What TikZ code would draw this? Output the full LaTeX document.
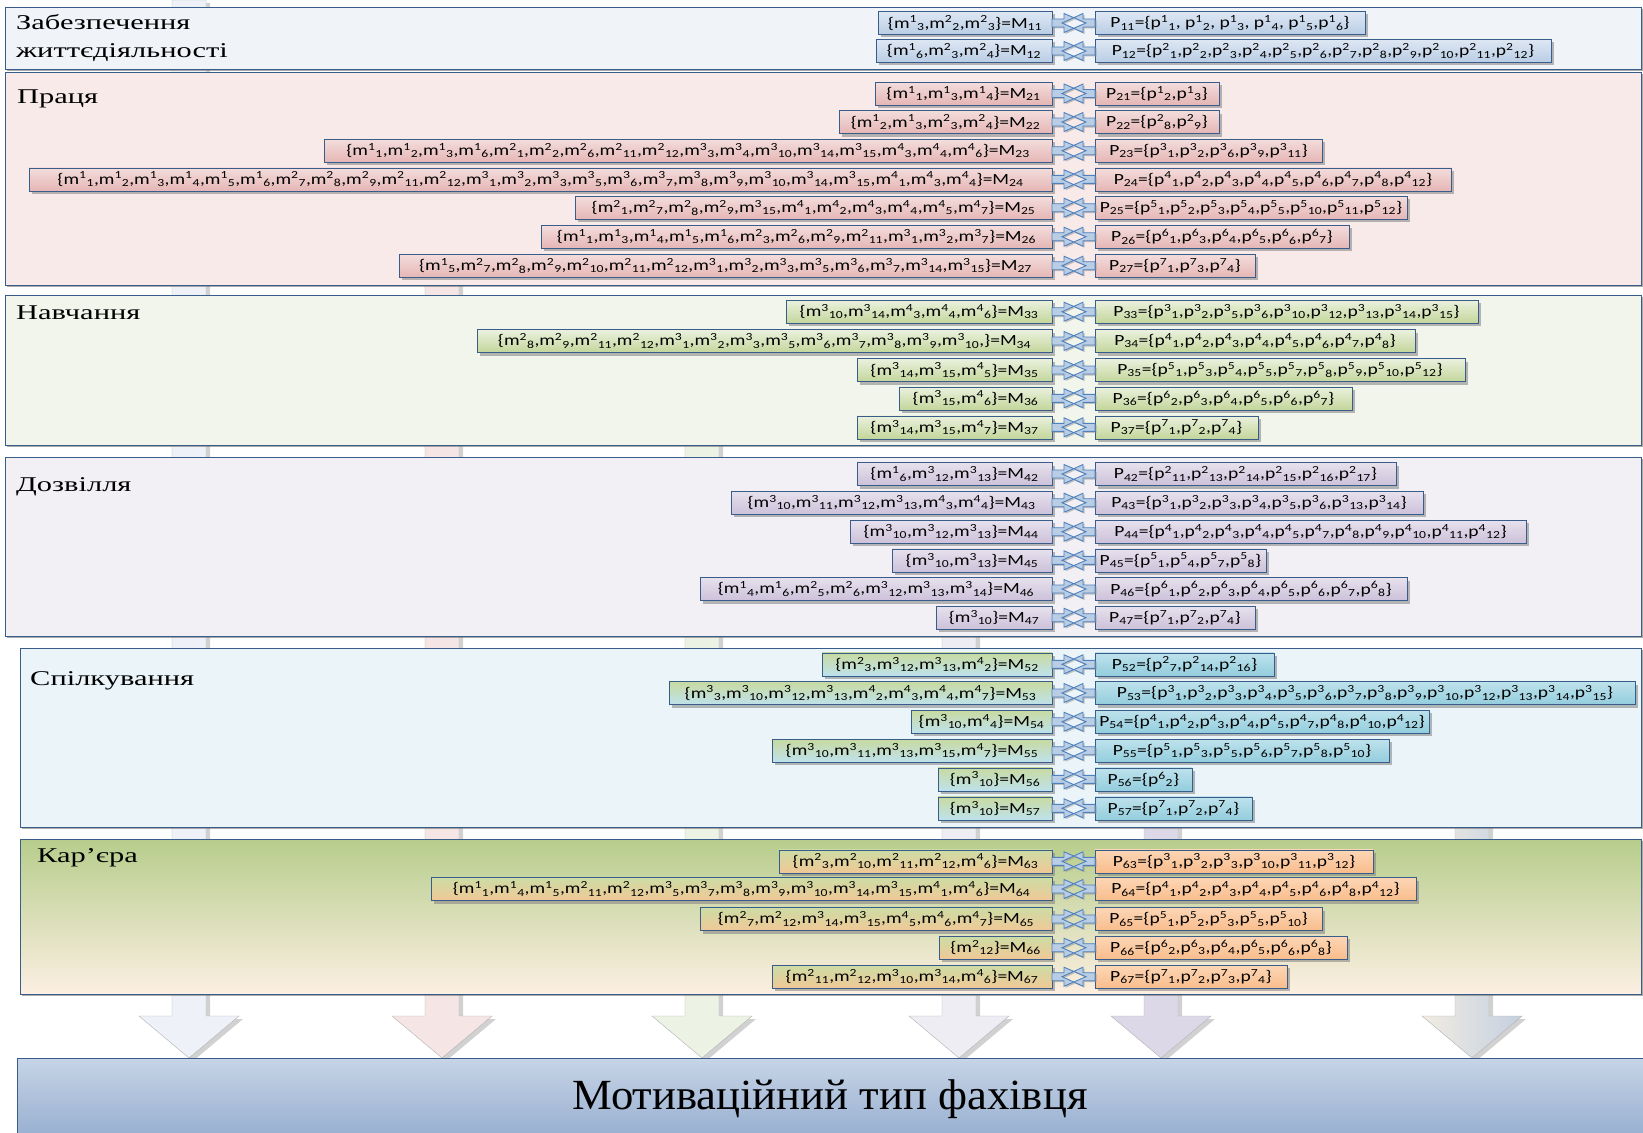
\documentclass[tikz,border=0pt]{standalone}
\usepackage{fontspec}
\setmainfont{Liberation Serif}
\newfontfamily\cellfont[FakeStretch=1.26]{Carlito}
\newfontfamily\headfont[FakeStretch=1.45]{Liberation Serif}
\newfontfamily\basefont[FakeStretch=1.04]{Liberation Serif}
\usetikzlibrary{calc,shadows,backgrounds}
\definecolor{frame}{RGB}{56,93,138}
\definecolor{linkfill}{RGB}{185,205,229}
\definecolor{linkline}{RGB}{79,129,189}
\definecolor{lifeback}{RGB}{240,243,248}
\definecolor{workback}{RGB}{249,234,234}
\definecolor{studyback}{RGB}{242,245,236}
\definecolor{leisureback}{RGB}{242,240,245}
\definecolor{talkback}{RGB}{234,244,249}
\definecolor{careertop}{RGB}{183,205,140}
\definecolor{careerbot}{RGB}{252,239,226}
\definecolor{lifetop}{RGB}{222,231,243}
\definecolor{lifebot}{RGB}{185,205,229}
\definecolor{worktop}{RGB}{243,221,220}
\definecolor{workbot}{RGB}{229,182,181}
\definecolor{studytop}{RGB}{235,241,222}
\definecolor{studybot}{RGB}{195,214,155}
\definecolor{leisuretop}{RGB}{231,225,237}
\definecolor{leisurebot}{RGB}{204,193,218}
\definecolor{talkgreen}{RGB}{200,218,160}
\definecolor{talktop}{RGB}{190,226,236}
\definecolor{talkbot}{RGB}{147,205,221}
\definecolor{careergreen}{RGB}{205,220,165}
\definecolor{careertan}{RGB}{240,200,150}
\definecolor{careerpt}{RGB}{252,214,182}
\definecolor{careerpb}{RGB}{249,189,140}
\definecolor{basetop}{RGB}{198,212,230}
\definecolor{basebot}{RGB}{150,174,208}
\definecolor{sink1}{RGB}{238,242,248}
\definecolor{sink2}{RGB}{246,229,229}
\definecolor{sink3}{RGB}{236,243,228}
\definecolor{sink4}{RGB}{239,237,244}
\definecolor{sink5}{RGB}{221,216,232}
\definecolor{sink6a}{RGB}{241,236,226}
\definecolor{sink6b}{RGB}{196,208,224}
\tikzset{
  panel/.style={draw=frame,inner sep=0pt,outer sep=0pt,
    drop shadow={shadow xshift=2pt,shadow yshift=-2pt,fill=black!55,opacity=0.6}},
  head/.style={font=\headfont\fontsize{21}{28}\selectfont,anchor=base west,
    inner sep=0pt,align=left},
  cell/.style={draw=frame,semithick,inner sep=0pt,outer sep=0pt,minimum height=23,
    font=\cellfont\fontsize{15.5}{18}\selectfont,
    drop shadow={shadow xshift=3pt,shadow yshift=-3pt,fill=black!50,opacity=0.55}},
  mshade/.style={top color=lifetop,bottom color=lifebot},
  pshade/.style={top color=lifetop,bottom color=lifebot},
  mcell/.style={cell,mshade,anchor=east},
  pcell/.style={cell,pshade,anchor=west},
  link/.style={fill=linkfill,draw=linkline,line width=0.9pt,line join=miter,
    drop shadow={shadow xshift=1.5pt,shadow yshift=-1.5pt,fill=black!45,opacity=0.5}},
  sink/.style={draw=gray!60,#1,
    drop shadow={shadow xshift=4pt,shadow yshift=-3pt,fill=black!40,opacity=0.45}},
}
\newcommand\mm[2]{m\textsuperscript{#1}\textsubscript{#2}}
\newcommand\pp[2]{p\textsuperscript{#1}\textsubscript{#2}}
\newcommand\Mx[1]{M\textsubscript{#1}}
\newcommand\Px[1]{P\textsubscript{#1}}
\newcommand\couple[2]{%
  \path[link] ($(#1.east)+(0,-4)$) -- ++(12,0) -- ++(0,-5.5) -- ++(22,9.5)
      -- ++(-22,9.5) -- ++(0,-5.5) -- ++(-12,0) -- cycle
    ($(#2.west)+(0,-4)$) -- ++(-12,0) -- ++(0,-5.5) -- ++(-21,9.5)
      -- ++(21,9.5) -- ++(0,-5.5) -- ++(12,0) -- cycle;}
\newcommand\pair[6]{%
  \node[mcell,minimum width=#3] (m#1) at (1052,#2) {#4};
  \node[pcell,minimum width=#5] (p#1) at (1095,#2) {#6};
  \couple{m#1}{p#1}}
\newcommand\sink[3]{%
  \path[sink={#3}] (#1-17,0 |- #2) -- (#1+17,0 |- #2) -- (#1+17,1016) -- (#1+50,1016)
    -- (#1,0 |- base.north) -- (#1-50,1016) -- (#1-17,1016) -- cycle;}

\begin{document}
\begin{tikzpicture}[x=1pt,y=-1pt]
  \useasboundingbox (0,0) rectangle (1643,1132);
  \coordinate (rim) at (0,0);
  % panels
  \node[panel,fill=lifeback,minimum width=1636,minimum height=62] (pan1) at (823,38) {};
  \node[panel,fill=workback,minimum width=1636,minimum height=213] (pan2) at (823,178.5) {};
  \node[panel,fill=studyback,minimum width=1636,minimum height=150] (pan3) at (823,370) {};
  \node[panel,fill=leisureback,minimum width=1636,minimum height=179] (pan4) at (823,546.5) {};
  \node[panel,fill=talkback,minimum width=1621,minimum height=179] (pan5) at (830.5,737.5) {};
  \node[panel,top color=careertop,bottom color=careerbot,minimum width=1621,minimum height=155] (pan6) at (830.5,916.5) {};
  \node[panel,top color=basetop,bottom color=basebot,minimum width=1626,minimum height=82,
    font=\basefont\fontsize{43}{50}\selectfont] (base) at (830,1099) {Мотиваційний тип фахівця};

  \node[head,anchor=north west] (t1) at (16,14) {Забезпечення\\життєдіяльності};
  \node[head] (t2) at (17,103) {Праця};
  \node[head] (t3) at (16,319) {Навчання};
  \node[head] (t4) at (16,491) {Дозвілля};
  \node[head] (t5) at (30,685) {Спілкування};
  \node[head] (t6) at (37,862) {Кар’єра};

  \begin{scope}[every node/.append style={minimum height=21}]
    \pair{11}{23}{174}{\{\mm13,\mm22,\mm23\}=\Mx{11}}{270}{\Px{11}=\{\pp11, \pp12, \pp13, \pp14, \pp15,\pp16\}}
    \pair{12}{51}{176}{\{\mm16,\mm23,\mm24\}=\Mx{12}}{456}{\Px{12}=\{\pp21,\pp22,\pp23,\pp24,\pp25,\pp26,\pp27,\pp28,\pp29,\pp2{10},\pp2{11},\pp2{12}\}}
  \end{scope}

  \begin{scope}[mshade/.style={top color=worktop,bottom color=workbot},
                pshade/.style={top color=worktop,bottom color=workbot}]
    \pair{21}{93.5}{177}{\{\mm11,\mm13,\mm14\}=\Mx{21}}{124}{\Px{21}=\{\pp12,\pp13\}}
    \pair{22}{122}{213}{\{\mm12,\mm13,\mm23,\mm24\}=\Mx{22}}{124}{\Px{22}=\{\pp28,\pp29\}}
    \pair{23}{150.7}{728}{\{\mm11,\mm12,\mm13,\mm16,\mm21,\mm22,\mm26,\mm2{11},\mm2{12},\mm33,\mm34,\mm3{10},\mm3{14},\mm3{15},\mm43,\mm44,\mm46\}=\Mx{23}}{227}{\Px{23}=\{\pp31,\pp32,\pp36,\pp39,\pp3{11}\}}
    \pair{24}{179.3}{1023}{\{\mm11,\mm12,\mm13,\mm14,\mm15,\mm16,\mm27,\mm28,\mm29,\mm2{11},\mm2{12},\mm31,\mm32,\mm33,\mm35,\mm36,\mm37,\mm38,\mm39,\mm3{10},\mm3{14},\mm3{15},\mm41,\mm43,\mm44\}=\Mx{24}}{356}{\Px{24}=\{\pp41,\pp42,\pp43,\pp44,\pp45,\pp46,\pp47,\pp48,\pp4{12}\}}
    \pair{25}{207.7}{477}{\{\mm21,\mm27,\mm28,\mm29,\mm3{15},\mm41,\mm42,\mm43,\mm44,\mm45,\mm47\}=\Mx{25}}{312}{\Px{25}=\{\pp51,\pp52,\pp53,\pp54,\pp55,\pp5{10},\pp5{11},\pp5{12}\}}
    \pair{26}{236.7}{511}{\{\mm11,\mm13,\mm14,\mm15,\mm16,\mm23,\mm26,\mm29,\mm2{11},\mm31,\mm32,\mm37\}=\Mx{26}}{254}{\Px{26}=\{\pp61,\pp63,\pp64,\pp65,\pp66,\pp67\}}
    \pair{27}{265.7}{653}{\{\mm15,\mm27,\mm28,\mm29,\mm2{10},\mm2{11},\mm2{12},\mm31,\mm32,\mm33,\mm35,\mm36,\mm37,\mm3{14},\mm3{15}\}=\Mx{27}}{160}{\Px{27}=\{\pp71,\pp73,\pp74\}}
  \end{scope}

  \begin{scope}[mshade/.style={top color=studytop,bottom color=studybot},
                pshade/.style={top color=studytop,bottom color=studybot}]
    \pair{33}{311.7}{266}{\{\mm3{10},\mm3{14},\mm43,\mm44,\mm46\}=\Mx{33}}{383}{\Px{33}=\{\pp31,\pp32,\pp35,\pp36,\pp3{10},\pp3{12},\pp3{13},\pp3{14},\pp3{15}\}}
    \pair{34}{341}{575}{\{\mm28,\mm29,\mm2{11},\mm2{12},\mm31,\mm32,\mm33,\mm35,\mm36,\mm37,\mm38,\mm39,\mm3{10},\}=\Mx{34}}{320}{\Px{34}=\{\pp41,\pp42,\pp43,\pp44,\pp45,\pp46,\pp47,\pp48\}}
    \pair{35}{370}{195}{\{\mm3{14},\mm3{15},\mm45\}=\Mx{35}}{370}{\Px{35}=\{\pp51,\pp53,\pp54,\pp55,\pp57,\pp58,\pp59,\pp5{10},\pp5{12}\}}
    \pair{36}{398.3}{153}{\{\mm3{15},\mm46\}=\Mx{36}}{257}{\Px{36}=\{\pp62,\pp63,\pp64,\pp65,\pp66,\pp67\}}
    \pair{37}{427.3}{195}{\{\mm3{14},\mm3{15},\mm47\}=\Mx{37}}{163}{\Px{37}=\{\pp71,\pp72,\pp74\}}
  \end{scope}

  \begin{scope}[mshade/.style={top color=leisuretop,bottom color=leisurebot},
                pshade/.style={top color=leisuretop,bottom color=leisurebot}]
    \pair{42}{474}{195}{\{\mm16,\mm3{12},\mm3{13}\}=\Mx{42}}{301}{\Px{42}=\{\pp2{11},\pp2{13},\pp2{14},\pp2{15},\pp2{16},\pp2{17}\}}
    \pair{43}{502.7}{321}{\{\mm3{10},\mm3{11},\mm3{12},\mm3{13},\mm43,\mm44\}=\Mx{43}}{328}{\Px{43}=\{\pp31,\pp32,\pp33,\pp34,\pp35,\pp36,\pp3{13},\pp3{14}\}}
    \pair{44}{531.7}{202}{\{\mm3{10},\mm3{12},\mm3{13}\}=\Mx{44}}{431}{\Px{44}=\{\pp41,\pp42,\pp43,\pp44,\pp45,\pp47,\pp48,\pp49,\pp4{10},\pp4{11},\pp4{12}\}}
    \pair{45}{560.3}{160}{\{\mm3{10},\mm3{13}\}=\Mx{45}}{171}{\Px{45}=\{\pp51,\pp54,\pp57,\pp58\}}
    \pair{46}{589}{352}{\{\mm14,\mm16,\mm25,\mm26,\mm3{12},\mm3{13},\mm3{14}\}=\Mx{46}}{312}{\Px{46}=\{\pp61,\pp62,\pp63,\pp64,\pp65,\pp66,\pp67,\pp68\}}
    \pair{47}{617.7}{116}{\{\mm3{10}\}=\Mx{47}}{160}{\Px{47}=\{\pp71,\pp72,\pp74\}}
  \end{scope}

  \begin{scope}[mshade/.style={top color=talkgreen,bottom color=talktop},
                pshade/.style={top color=talktop,bottom color=talkbot}]
    \pair{52}{664.3}{230}{\{\mm23,\mm3{12},\mm3{13},\mm42\}=\Mx{52}}{179}{\Px{52}=\{\pp27,\pp2{14},\pp2{16}\}}
    \pair{53}{693}{383}{\{\mm33,\mm3{10},\mm3{12},\mm3{13},\mm42,\mm43,\mm44,\mm47\}=\Mx{53}}{540}{\Px{53}=\{\pp31,\pp32,\pp33,\pp34,\pp35,\pp36,\pp37,\pp38,\pp39,\pp3{10},\pp3{12},\pp3{13},\pp3{14},\pp3{15}\}}
    \pair{54}{721.7}{141}{\{\mm3{10},\mm44\}=\Mx{54}}{334}{\Px{54}=\{\pp41,\pp42,\pp43,\pp44,\pp45,\pp47,\pp48,\pp4{10},\pp4{12}\}}
    \pair{55}{750.7}{280}{\{\mm3{10},\mm3{11},\mm3{13},\mm3{15},\mm47\}=\Mx{55}}{294}{\Px{55}=\{\pp51,\pp53,\pp55,\pp56,\pp57,\pp58,\pp5{10}\}}
    \pair{56}{779.3}{114}{\{\mm3{10}\}=\Mx{56}}{97}{\Px{56}=\{\pp62\}}
    \pair{57}{808.3}{114}{\{\mm3{10}\}=\Mx{57}}{157}{\Px{57}=\{\pp71,\pp72,\pp74\}}
  \end{scope}

  \begin{scope}[mshade/.style={top color=careergreen,bottom color=careertan},
                pshade/.style={top color=careerpt,bottom color=careerpb}]
    \pair{63}{861.3}{273}{\{\mm23,\mm2{10},\mm2{11},\mm2{12},\mm46\}=\Mx{63}}{278}{\Px{63}=\{\pp31,\pp32,\pp33,\pp3{10},\pp3{11},\pp3{12}\}}
    \pair{64}{889}{621}{\{\mm11,\mm14,\mm15,\mm2{11},\mm2{12},\mm35,\mm37,\mm38,\mm39,\mm3{10},\mm3{14},\mm3{15},\mm41,\mm46\}=\Mx{64}}{321}{\Px{64}=\{\pp41,\pp42,\pp43,\pp44,\pp45,\pp46,\pp48,\pp4{12}\}}
    \pair{65}{919}{352}{\{\mm27,\mm2{12},\mm3{14},\mm3{15},\mm45,\mm46,\mm47\}=\Mx{65}}{227}{\Px{65}=\{\pp51,\pp52,\pp53,\pp55,\pp5{10}\}}
    \pair{66}{947.7}{113}{\{\mm2{12}\}=\Mx{66}}{252}{\Px{66}=\{\pp62,\pp63,\pp64,\pp65,\pp66,\pp68\}}
    \pair{67}{976.7}{280}{\{\mm2{11},\mm2{12},\mm3{10},\mm3{14},\mm46\}=\Mx{67}}{192}{\Px{67}=\{\pp71,\pp72,\pp73,\pp74\}}
  \end{scope}

  \begin{scope}[on background layer]
    \sink{189}{rim}{fill=sink1}
    \sink{442}{pan2.center}{fill=sink2}
    \sink{702}{pan3.center}{fill=sink3}
    \sink{959}{pan4.center}{fill=sink4}
    \sink{1161}{pan5.center}{fill=sink5}
    \sink{1472}{pan5.center}{left color=sink6a,right color=sink6b}
  \end{scope}
\end{tikzpicture}
\end{document}
